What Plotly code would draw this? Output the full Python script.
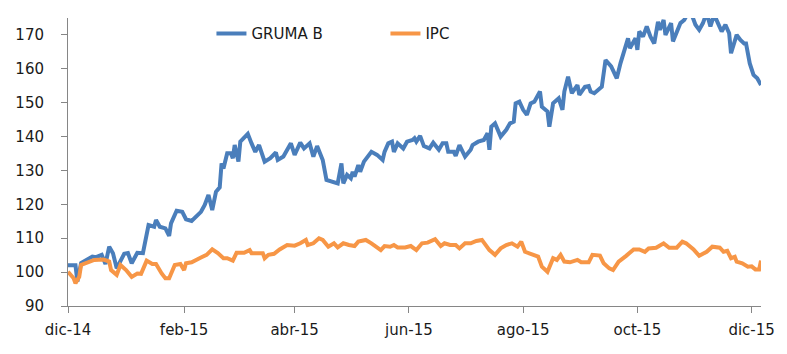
import plotly.graph_objects as go

gruma_dates = [
    "2014-12-01", "2014-12-05", "2014-12-06", "2014-12-08", "2014-12-14", "2014-12-16", "2014-12-19",
    "2014-12-21", "2014-12-23", "2014-12-25", "2014-12-27", "2014-12-29", "2014-12-31", "2015-01-02",
    "2015-01-04", "2015-01-07", "2015-01-10", "2015-01-13", "2015-01-16", "2015-01-17", "2015-01-19",
    "2015-01-22", "2015-01-24", "2015-01-25", "2015-01-28", "2015-01-31", "2015-02-02", "2015-02-05",
    "2015-02-08", "2015-02-10", "2015-02-12", "2015-02-14", "2015-02-16", "2015-02-18", "2015-02-20",
    "2015-02-21", "2015-02-22", "2015-02-24", "2015-02-26", "2015-02-27", "2015-02-28", "2015-03-02",
    "2015-03-03", "2015-03-07", "2015-03-09", "2015-03-11", "2015-03-13", "2015-03-16", "2015-03-19",
    "2015-03-22", "2015-03-23", "2015-03-26", "2015-03-30", "2015-04-01", "2015-04-04", "2015-04-06",
    "2015-04-09", "2015-04-11", "2015-04-13", "2015-04-16", "2015-04-18", "2015-04-21", "2015-04-24",
    "2015-04-26", "2015-04-27", "2015-04-29", "2015-05-01", "2015-05-02", "2015-05-03", "2015-05-05",
    "2015-05-06", "2015-05-08", "2015-05-12", "2015-05-15", "2015-05-18", "2015-05-19", "2015-05-21",
    "2015-05-23", "2015-05-24", "2015-05-26", "2015-05-29", "2015-05-31", "2015-06-03", "2015-06-04",
    "2015-06-05", "2015-06-07", "2015-06-09", "2015-06-12", "2015-06-14", "2015-06-17", "2015-06-19",
    "2015-06-21", "2015-06-22", "2015-06-25", "2015-06-26", "2015-06-28", "2015-07-01", "2015-07-04",
    "2015-07-05", "2015-07-08", "2015-07-11", "2015-07-13", "2015-07-14", "2015-07-15", "2015-07-17",
    "2015-07-20", "2015-07-23", "2015-07-25", "2015-07-27", "2015-07-28", "2015-07-30", "2015-08-01",
    "2015-08-03", "2015-08-05", "2015-08-07", "2015-08-10", "2015-08-11", "2015-08-14", "2015-08-15",
    "2015-08-17", "2015-08-20", "2015-08-22", "2015-08-23", "2015-08-25", "2015-08-27", "2015-08-30",
    "2015-08-31", "2015-09-03", "2015-09-05", "2015-09-06", "2015-09-08", "2015-09-12", "2015-09-14",
    "2015-09-17", "2015-09-20", "2015-09-22", "2015-09-24", "2015-09-26", "2015-09-27", "2015-09-30",
    "2015-10-01", "2015-10-02", "2015-10-04", "2015-10-06", "2015-10-08", "2015-10-10", "2015-10-12",
    "2015-10-13", "2015-10-15", "2015-10-16", "2015-10-19", "2015-10-20", "2015-10-24", "2015-10-26",
    "2015-10-28", "2015-10-30", "2015-11-01", "2015-11-03", "2015-11-05", "2015-11-07", "2015-11-09",
    "2015-11-11", "2015-11-13", "2015-11-15", "2015-11-17", "2015-11-19", "2015-11-20", "2015-11-23",
    "2015-11-25", "2015-11-27", "2015-11-28", "2015-11-30", "2015-12-02", "2015-12-04", "2015-12-06",
]
gruma_values = [
    102.0, 102.0, 97.2, 102.7, 104.6, 104.4, 105.1,
    102.4, 107.5, 105.6, 101.1, 103.6, 105.4, 105.6,
    102.6, 105.7, 105.6, 113.9, 113.4, 115.4, 113.4,
    112.9, 110.7, 114.4, 118.1, 117.8, 115.6, 115.1,
    116.6, 117.8, 119.8, 122.8, 118.3, 123.7, 125.0,
    132.1, 130.6, 135.1, 135.1, 133.6, 137.5, 132.6,
    138.5, 140.8, 138.0, 135.5, 137.5, 132.6, 133.6,
    135.3, 133.1, 134.1, 138.0, 134.6, 138.2, 136.5,
    138.0, 134.1, 137.2, 133.1, 127.2, 126.7, 126.2,
    132.1, 126.2, 128.7, 127.7, 129.6, 128.2, 131.6,
    129.6, 132.6, 135.5, 134.6, 133.1, 135.5, 138.0,
    138.5, 135.5, 138.0, 136.5, 138.5, 139.0, 139.5,
    138.5, 140.2, 137.2, 136.5, 138.2, 136.1, 138.0,
    138.0, 135.5, 135.5, 134.3, 137.5, 134.1, 136.1,
    137.5, 138.5, 139.0, 141.0, 136.1, 142.9, 143.9,
    140.0, 142.0, 143.9, 144.4, 149.8, 150.3, 147.9,
    146.4, 149.8, 150.3, 153.3, 148.8, 147.4, 142.9,
    149.8, 151.3, 147.9, 153.3, 157.7, 152.8, 155.2,
    152.3, 154.7, 154.9, 153.3, 152.8, 154.7, 162.6,
    160.7, 157.2, 161.7, 165.1, 169.0, 166.1, 169.0,
    165.6, 171.0, 169.5, 172.5, 169.5, 167.5, 173.9,
    171.5, 174.4, 170.0, 173.5, 168.1, 173.5, 174.4,
    176.5, 176.0, 173.0, 171.5, 173.5, 176.5, 172.5,
    176.0, 173.5, 171.0, 173.0, 170.5, 164.6, 170.0,
    168.5, 167.5, 167.5, 161.6, 158.2, 157.2, 155.2,
]

ipc_dates = [
    "2014-12-01", "2014-12-04", "2014-12-05", "2014-12-07", "2014-12-08", "2014-12-12", "2014-12-15",
    "2014-12-20", "2014-12-23", "2014-12-24", "2014-12-27", "2014-12-29", "2015-01-01", "2015-01-04",
    "2015-01-07", "2015-01-09", "2015-01-12", "2015-01-15", "2015-01-17", "2015-01-20", "2015-01-22",
    "2015-01-24", "2015-01-27", "2015-01-30", "2015-02-01", "2015-02-02", "2015-02-05", "2015-02-10",
    "2015-02-13", "2015-02-16", "2015-02-19", "2015-02-22", "2015-02-24", "2015-02-27", "2015-03-01",
    "2015-03-05", "2015-03-08", "2015-03-09", "2015-03-12", "2015-03-15", "2015-03-16", "2015-03-18",
    "2015-03-21", "2015-03-24", "2015-03-28", "2015-04-01", "2015-04-04", "2015-04-07", "2015-04-08",
    "2015-04-11", "2015-04-14", "2015-04-16", "2015-04-19", "2015-04-22", "2015-04-24", "2015-04-27",
    "2015-04-30", "2015-05-03", "2015-05-05", "2015-05-09", "2015-05-12", "2015-05-14", "2015-05-17",
    "2015-05-19", "2015-05-22", "2015-05-24", "2015-05-26", "2015-05-30", "2015-06-02", "2015-06-05",
    "2015-06-08", "2015-06-11", "2015-06-15", "2015-06-18", "2015-06-20", "2015-06-23", "2015-06-26",
    "2015-06-28", "2015-07-01", "2015-07-04", "2015-07-07", "2015-07-10", "2015-07-12", "2015-07-14",
    "2015-07-17", "2015-07-20", "2015-07-23", "2015-07-26", "2015-07-29", "2015-07-31", "2015-08-02",
    "2015-08-06", "2015-08-09", "2015-08-11", "2015-08-14", "2015-08-17", "2015-08-19", "2015-08-21",
    "2015-08-23", "2015-08-26", "2015-08-30", "2015-09-01", "2015-09-05", "2015-09-07", "2015-09-11",
    "2015-09-13", "2015-09-16", "2015-09-18", "2015-09-21", "2015-09-25", "2015-09-29", "2015-10-02",
    "2015-10-05", "2015-10-07", "2015-10-11", "2015-10-15", "2015-10-18", "2015-10-22", "2015-10-25",
    "2015-10-27", "2015-10-31", "2015-11-03", "2015-11-07", "2015-11-10", "2015-11-14", "2015-11-16",
    "2015-11-18", "2015-11-20", "2015-11-22", "2015-11-23", "2015-11-26", "2015-11-29", "2015-12-01",
    "2015-12-03", "2015-12-05", "2015-12-06",
]
ipc_values = [
    100.1, 98.2, 96.7, 98.6, 102.1, 103.1, 103.6,
    103.7, 103.1, 100.6, 99.2, 102.1, 100.6, 98.6,
    99.6, 99.5, 103.4, 102.4, 102.4, 99.6, 98.2,
    98.2, 102.1, 102.4, 100.6, 102.6, 102.9, 104.3,
    105.1, 106.7, 105.6, 104.1, 104.1, 103.4, 105.7,
    105.7, 106.5, 105.6, 105.7, 105.6, 104.1, 105.1,
    105.4, 106.7, 108.0, 107.8, 108.5, 109.5, 108.0,
    108.5, 110.0, 109.5, 107.5, 108.5, 107.3, 108.5,
    108.0, 107.7, 109.0, 109.5, 108.5, 107.7, 106.5,
    107.7, 107.5, 108.0, 107.3, 107.3, 107.7, 106.5,
    108.5, 108.7, 109.7, 107.7, 108.5, 108.0, 108.0,
    107.0, 108.5, 108.5, 109.2, 109.5, 108.0, 106.5,
    105.1, 107.0, 108.0, 108.5, 107.5, 109.0, 106.0,
    105.1, 104.6, 101.6, 100.1, 104.1, 103.6, 105.1,
    103.1, 102.9, 103.6, 102.9, 102.9, 105.1, 104.9,
    102.6, 101.1, 100.6, 103.1, 104.8, 106.7, 106.7,
    106.0, 107.0, 107.2, 108.5, 107.2, 107.2, 109.0,
    108.5, 106.7, 104.8, 106.0, 107.5, 107.2, 106.0,
    106.3, 104.1, 104.5, 103.1, 102.6, 101.6, 101.7,
    100.8, 100.8, 103.4,
]

x_tick_dates = ["2014-12-01", "2015-02-01", "2015-04-01", "2015-06-01", "2015-08-01", "2015-10-01", "2015-12-01"]
x_tick_labels = ["dic-14", "feb-15", "abr-15", "jun-15", "ago-15", "oct-15", "dic-15"]
y_ticks = [90, 100, 110, 120, 130, 140, 150, 160, 170]

FONT = "DejaVu Sans"
AXIS_COLOR = "#868686"

fig = go.Figure()
fig.add_trace(go.Scatter(x=gruma_dates, y=gruma_values, mode="lines", name="GRUMA B",
                         line=dict(color="#4A7EBB", width=4)))
fig.add_trace(go.Scatter(x=ipc_dates, y=ipc_values, mode="lines", name="IPC",
                         line=dict(color="#F79646", width=4)))

fig.update_layout(
    width=787, height=354,
    margin=dict(l=68, r=24, t=18, b=48),
    paper_bgcolor="white", plot_bgcolor="white",
    font=dict(family=FONT, size=15, color="#1a1a1a"),
    showlegend=True,
    legend=dict(orientation="h", x=0.207, y=0.945, xanchor="left", yanchor="middle",
                font=dict(family=FONT, size=15, color="#1a1a1a"),
                entrywidth=129, entrywidthmode="pixels", bgcolor="rgba(0,0,0,0)"),
    xaxis=dict(type="date", range=["2014-12-01", "2015-12-06"],
               tickmode="array", tickvals=x_tick_dates, ticktext=x_tick_labels,
               showgrid=False, zeroline=False, showline=True, linecolor=AXIS_COLOR, linewidth=1,
               ticks="outside", ticklen=6, tickcolor=AXIS_COLOR, ticklabelstandoff=4),
    yaxis=dict(range=[90, 175], tickmode="array", tickvals=y_ticks,
               showgrid=False, zeroline=False, showline=True, linecolor=AXIS_COLOR, linewidth=1,
               ticks="outside", ticklen=6, tickcolor=AXIS_COLOR, ticklabelstandoff=14),
)

fig.write_html("out.html")
